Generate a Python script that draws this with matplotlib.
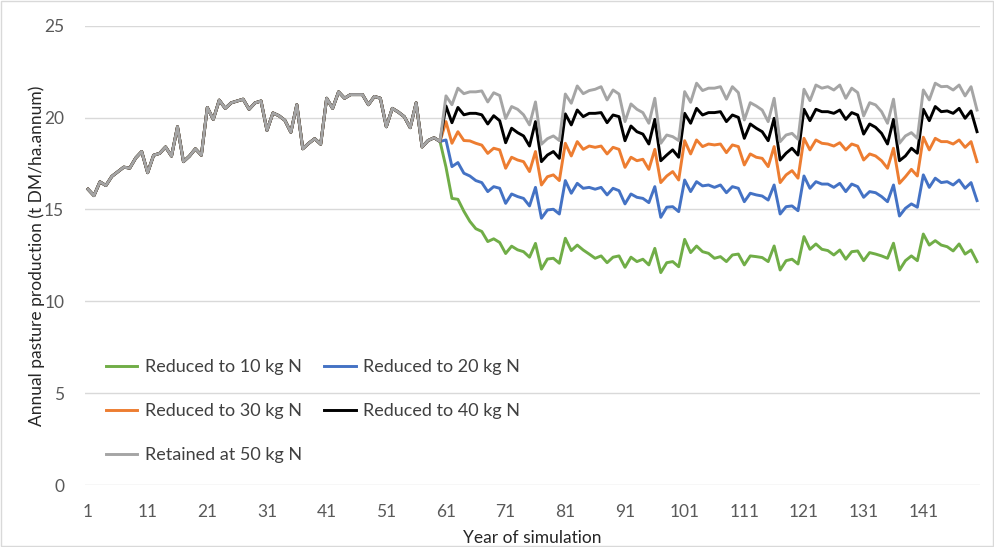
import matplotlib.pyplot as plt
from matplotlib.patches import Rectangle
import numpy as np

plt.rcParams['font.family'] = ['Lato', 'DejaVu Sans']

# years 1-60: same fertiliser rate for every scenario
baseline = [16.1, 15.75, 16.5, 16.3, 16.8, 17.05, 17.3, 17.25, 17.8, 18.15,
            17.0, 17.95, 18.05, 18.4, 17.9, 19.5, 17.6, 17.9, 18.3, 17.95,
            20.55, 19.9, 20.95, 20.5, 20.8, 20.9, 21.0, 20.45, 20.8, 20.9,
            19.3, 20.25, 20.1, 19.85, 19.2, 20.7, 18.3, 18.6, 18.85, 18.55,
            21.05, 20.5, 21.4, 21.05, 21.25, 21.25, 21.25, 20.7, 21.15, 21.05,
            19.5, 20.5, 20.3, 20.05, 19.45, 20.8, 18.4, 18.75, 18.9, 18.7]

# years 61-150 per scenario
n10 = [17.3, 15.6, 15.55, 14.9, 14.35, 13.95, 13.8, 13.25, 13.4, 13.2,
       12.6, 13.0, 12.8, 12.7, 12.4, 13.15, 11.75, 12.3, 12.34, 12.07,
       13.43, 12.76, 13.06, 12.79, 12.57, 12.34, 12.47, 12.1, 12.4, 12.47,
       11.85, 12.4, 12.16, 12.29, 11.98, 12.88, 11.56, 12.1, 12.16, 11.88,
       13.37, 12.65, 13.01, 12.7, 12.61, 12.34, 12.43, 12.16, 12.52, 12.57,
       11.98, 12.47, 12.43, 12.38, 12.16, 13.01, 11.7, 12.21, 12.29, 12.03,
       13.52, 12.83, 13.12, 12.83, 12.76, 12.52, 12.79, 12.29, 12.7, 12.74,
       12.21, 12.65, 12.57, 12.47, 12.34, 13.16, 11.7, 12.21, 12.47, 12.21,
       13.66, 13.06, 13.3, 13.06, 12.97, 12.74, 13.12, 12.57, 12.79, 12.16]
n20 = [18.78, 17.33, 17.55, 16.97, 16.82, 16.57, 16.46, 15.97, 16.24, 16.15,
       15.33, 15.84, 15.7, 15.6, 15.19, 16.2, 14.52, 14.97, 15.01, 14.75,
       16.57, 15.88, 16.42, 16.15, 16.2, 16.1, 16.2, 15.79, 16.15, 16.02,
       15.3, 15.84, 15.66, 15.6, 15.37, 16.24, 14.57, 15.12, 15.15, 14.88,
       16.6, 15.97, 16.51, 16.28, 16.33, 16.2, 16.33, 15.91, 16.24, 16.15,
       15.42, 15.88, 15.79, 15.73, 15.51, 16.33, 14.75, 15.15, 15.19, 14.93,
       16.82, 16.15, 16.51, 16.38, 16.38, 16.2, 16.42, 15.97, 16.38, 16.24,
       15.66, 15.97, 15.91, 15.7, 15.42, 16.33, 14.64, 15.06, 15.3, 15.12,
       16.88, 16.2, 16.7, 16.46, 16.51, 16.33, 16.6, 16.15, 16.46, 15.48]
n30 = [19.78, 18.6, 19.23, 18.75, 18.73, 18.6, 18.5, 18.05, 18.33, 18.24,
       17.24, 17.84, 17.69, 17.6, 17.06, 18.15, 16.33, 16.78, 16.88, 16.57,
       18.6, 17.91, 18.69, 18.27, 18.45, 18.38, 18.45, 18.02, 18.38, 18.27,
       17.29, 17.84, 17.65, 17.73, 17.18, 18.27, 16.46, 16.82, 17.06, 16.6,
       18.74, 18.02, 18.78, 18.42, 18.56, 18.51, 18.56, 18.09, 18.51, 18.42,
       17.42, 18.02, 17.84, 17.78, 17.33, 18.42, 16.46, 16.88, 17.11, 16.7,
       18.87, 18.24, 18.78, 18.6, 18.56, 18.45, 18.63, 18.24, 18.56, 18.45,
       17.69, 18.02, 17.91, 17.65, 17.24, 18.33, 16.42, 16.78, 17.18, 16.82,
       18.93, 18.24, 18.87, 18.69, 18.69, 18.56, 18.78, 18.38, 18.69, 17.6]
n40 = [20.63, 19.72, 20.55, 20.15, 20.23, 20.23, 20.15, 19.65, 20.1, 19.83,
       18.63, 19.42, 19.18, 19.0, 18.45, 19.78, 17.6, 17.96, 18.15, 17.78,
       20.2, 19.6, 20.41, 20.05, 20.23, 20.23, 20.27, 19.72, 20.14, 20.05,
       18.74, 19.54, 19.23, 19.1, 18.56, 19.9, 17.65, 17.96, 18.24, 17.84,
       20.23, 19.69, 20.5, 20.14, 20.27, 20.27, 20.32, 19.78, 20.14, 20.01,
       18.87, 19.65, 19.42, 19.23, 18.74, 19.96, 17.69, 18.06, 18.33, 17.96,
       20.45, 19.83, 20.45, 20.32, 20.32, 20.23, 20.41, 19.9, 20.27, 20.14,
       19.1, 19.65, 19.47, 19.14, 18.56, 19.9, 17.65, 17.91, 18.33, 18.06,
       20.45, 19.83, 20.6, 20.32, 20.36, 20.23, 20.5, 19.96, 20.36, 19.23]
n50 = [21.18, 20.7, 21.6, 21.3, 21.4, 21.4, 21.45, 20.85, 21.35, 21.2,
       19.95, 20.6, 20.45, 20.15, 19.6, 20.85, 18.55, 18.85, 19.0, 18.75,
       21.28, 20.78, 21.72, 21.3, 21.47, 21.54, 21.68, 20.96, 21.5, 21.28,
       19.78, 20.74, 20.45, 20.27, 19.69, 21.05, 18.6, 19.05, 18.96, 18.75,
       21.41, 20.83, 21.87, 21.47, 21.6, 21.6, 21.68, 21.0, 21.68, 21.36,
       19.87, 20.81, 20.63, 20.41, 19.78, 21.05, 18.69, 19.05, 19.14, 18.82,
       21.54, 20.92, 21.77, 21.6, 21.68, 21.5, 21.77, 21.05, 21.6, 21.36,
       20.09, 20.81, 20.69, 20.32, 19.69, 21.0, 18.6, 19.0, 19.18, 18.87,
       21.5, 20.96, 21.87, 21.68, 21.7, 21.5, 21.77, 21.18, 21.68, 20.41]

labels = ['Reduced to 10 kg N', 'Reduced to 20 kg N', 'Reduced to 30 kg N',
          'Reduced to 40 kg N', 'Retained at 50 kg N']
colors = ['#70AD47', '#4472C4', '#ED7D31', '#000000', '#A5A5A5']
years = np.arange(1, len(baseline) + len(n10) + 1)
xticks = list(range(1, 150, 10))

fig = plt.figure(figsize=(9.95, 5.47), dpi=100)
ax = fig.add_axes([85/995, 1-485/547, (980-85)/995, (485-25.7)/547])

lines = []
for vals, lab, col in zip([n10, n20, n30, n40, n50], labels, colors):
    ln, = ax.plot(years, baseline + vals, color=col, lw=2.1, label=lab,
                  solid_joinstyle='round')
    lines.append(ln)

ax.set_xlim(0.5, 150.5)
ax.set_ylim(0, 25)
ax.set_yticks(range(0, 26, 5))
ax.set_xticks(xticks)
ax.tick_params(length=0, labelsize=12.5, colors='#595959', pad=14)
ax.tick_params(axis='y', pad=15)
ax.grid(axis='y', color='#D9D9D9', lw=1)
ax.set_axisbelow(True)
for s in ax.spines.values():
    s.set_visible(False)
ax.set_xlabel('Year of simulation', fontsize=12.5, color='#262626', labelpad=7)
ax.set_ylabel('Annual pasture production (t DM/ha.annum)', fontsize=12.5,
              color='#262626', labelpad=-1)

# legend filled row by row: 10/20, 30/40, 50
order = [0, 2, 4, 1, 3]
ax.legend([lines[i] for i in order], [labels[i] for i in order],
          loc='upper left', bbox_to_anchor=(0.005, 0.31), ncol=2, frameon=False,
          fontsize=13, labelcolor='#404040', handlelength=1.75,
          labelspacing=1.55, columnspacing=1.25, handletextpad=0.4)

# thin frame round the whole chart
fig.patches.append(Rectangle((0.001, 0.002), 0.997, 0.996, transform=fig.transFigure,
                             fill=False, ec='#D9D9D9', lw=1))

fig.savefig('out.png', dpi=100)
